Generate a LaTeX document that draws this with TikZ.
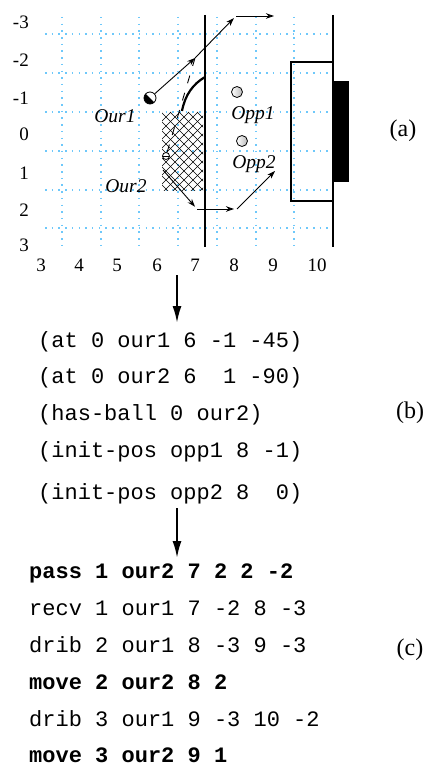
\documentclass[tikz,border=0pt]{standalone}
\usepackage{fontspec}
\setmainfont{Liberation Serif}
\setmonofont{Liberation Mono}
\usetikzlibrary{arrows.meta}

\definecolor{gridblue}{RGB}{110,200,250}

\begin{document}
\begin{tikzpicture}[x=1pt,y=-1pt,
  gridline/.style={gridblue, line width=1.3pt, dash pattern=on 1.5pt off 5.2pt},
  wall/.style={line width=2.4pt},
  thinarrow/.style={line width=0.9pt, -{Stealth[length=8pt,width=5.5pt,inset=2.5pt]}},
  bigarrow/.style={line width=2pt, -{Latex[length=17pt,width=9pt]}},
  axnum/.style={font=\fontsize{19}{19}\selectfont, inner sep=0pt},
  plabel/.style={font=\fontsize{19.5}{20}\selectfont\itshape, inner sep=0pt, anchor=base},
  code/.style={font=\fontsize{22}{23}\selectfont\ttfamily, anchor=base west, inner sep=0pt},
  codeb/.style={code, font=\fontsize{22}{23}\selectfont\ttfamily\bfseries},
  tag/.style={font=\fontsize{24}{24}\selectfont, inner sep=0pt},
  opp/.style={circle, draw, line width=0.8pt, minimum size=11pt, inner sep=0pt,
              left color=white, right color=gray!55},
]
\useasboundingbox (0,0) rectangle (428,767);

% ---- field grid ----
\foreach \gx in {62,101,139,178,217,256,294}
  \draw[gridline] (\gx,17) -- (\gx,246);
\foreach \gy in {34,73,112,151,190,228}
  \draw[gridline] (45,\gy) -- (333,\gy);

% ---- axis numbers ----
\foreach \v/\gy in {-3/22,-2/60,-1/98,0/134,1/173,2/210,3/245}
  \node[axnum, anchor=east] (ylab\v) at (29,\gy) {\v};
\foreach \v/\gx in {3/41,4/79,5/117,6/157,7/195,8/234,9/273,10/317}
  \node[axnum] (xlab\v) at (\gx,265) {\v};

% ---- hatched zone ----
\begin{scope}
  \clip (162,112) rectangle (203,191);
  \foreach \k in {0,...,14} {
    \draw[line width=0.6pt] (80+9*\k,112) -- ++(100,100);
    \draw[line width=0.6pt] (162+9*\k,112) -- ++(-100,100);
  }
\end{scope}

% ---- walls and goal ----
\draw[wall] (205,15) -- (205,247);
\draw[wall] (333,15) -- (333,247);
\draw[wall] (291,62) rectangle (333,201);
\fill (333,81) rectangle (349,182);

% curved boundary near the wall
\draw[line width=2.2pt] (182,111) .. controls (185,95) and (193,84) .. (205,77);

% ---- players ----
\node[circle, draw, line width=0.8pt, fill=black, minimum size=12pt, inner sep=0pt,
      path picture={\fill[white] (path picture bounding box.north west)
        -- (path picture bounding box.south east)
        -- (path picture bounding box.north east) -- cycle;}]
  (our1) at (150,98) {};
\node[circle, draw, line width=0.8pt, fill=white, minimum size=7pt, inner sep=0pt,
      path picture={\draw[line width=0.8pt] (path picture bounding box.west)
        -- (path picture bounding box.east);}]
  (our2) at (166,156) {};
\node[opp] (opp1) at (237,92) {};
\node[opp] (opp2) at (242,141) {};

\node[plabel] (our1lab) at (115,123) {Our1};
\node[plabel] (our2lab) at (126,193) {Our2};
\node[plabel] (opp1lab) at (253,120) {Opp1};
\node[plabel] (opp2lab) at (254,169) {Opp2};

% ---- trajectories ----
\coordinate (r1) at (195,58);
\coordinate (d1) at (236,16);
\coordinate (d2) at (274,16);
\coordinate (m1) at (197,209);
\coordinate (m2) at (237,209);
\coordinate (m3) at (275,171);
\coordinate (o2start) at (163,170);

\draw[line width=0.9pt, dash pattern=on 8pt off 10pt] (our2) -- (r1);
\draw[thinarrow] (our1) -- (r1);
\draw[thinarrow, shorten >=3pt] (r1) -- (d1);
\draw[thinarrow] (d1) -- (d2);
\draw[thinarrow, shorten >=3pt] (o2start) -- (m1);
\draw[thinarrow, shorten >=3pt] (m1) -- (m2);
\draw[thinarrow] (m2) -- (m3);

\node[tag] (taga) at (403,131) {(a)};

% ---- initial facts ----
\coordinate (ar1top) at (177,275);
\coordinate (ar1tip) at (177,323);
\draw[bigarrow] (ar1top) -- (ar1tip);

\node[code] (f1) at (38,347) {(at 0 our1 6 -1 -45)};
\node[code] (f2) at (38,383) {(at 0 our2 6\ \ 1 -90)};
\node[code] (f3) at (38,420) {(has-ball 0 our2)};
\node[code] (f4) at (38,457) {(init-pos opp1 8 -1)};
\node[code] (f5) at (38,499) {(init-pos opp2 8\ \ 0)};
\node[tag] (tagb) at (410,413) {(b)};

% ---- plan ----
\coordinate (ar2top) at (177,508);
\coordinate (ar2tip) at (177,558);
\draw[bigarrow] (ar2top) -- (ar2tip);

\node[codeb] (p1) at (29,578) {pass 1 our2 7 2 2 -2};
\node[code]  (p2) at (29,615) {recv 1 our1 7 -2 8 -3};
\node[code]  (p3) at (29,652) {drib 2 our1 8 -3 9 -3};
\node[codeb] (p4) at (29,689) {move 2 our2 8 2};
\node[code]  (p5) at (29,726) {drib 3 our1 9 -3 10 -2};
\node[codeb] (p6) at (29,762) {move 3 our2 9 1};
\node[tag] (tagc) at (410,650) {(c)};
\end{tikzpicture}
\end{document}
